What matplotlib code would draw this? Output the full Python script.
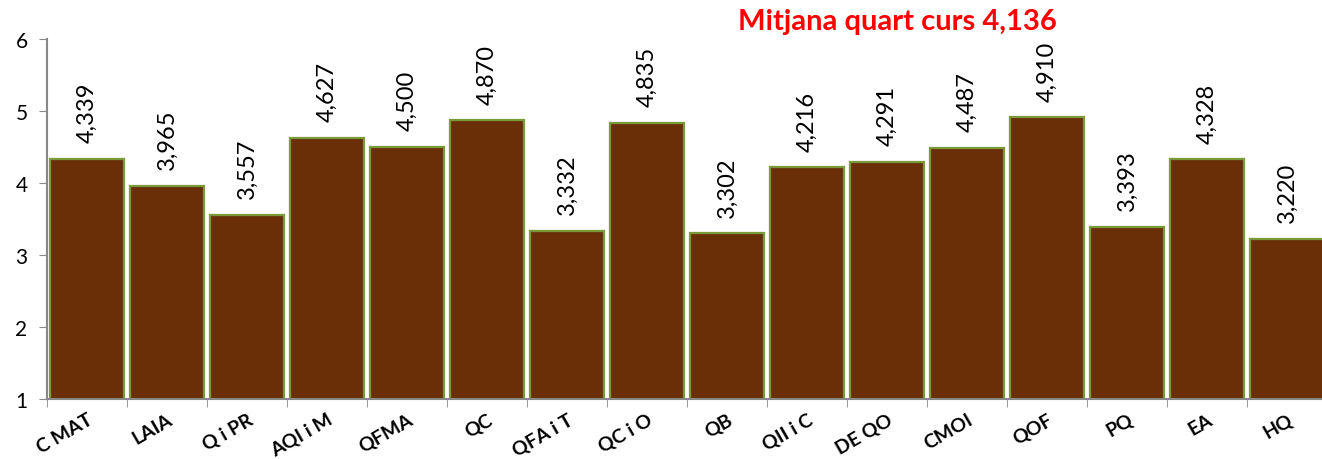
import matplotlib.pyplot as plt

categorias = ["C MAT", "LAIA", "Q i PR", "AQI i M", "QFMA", "QC", "QFA i T", "QC i O",
              "QB", "QII i C", "DE QO", "CMOI", "QOF", "PQ", "EA", "HQ"]
valors = [4.339, 3.965, 3.557, 4.627, 4.500, 4.870, 3.332, 4.835,
          3.302, 4.216, 4.291, 4.487, 4.910, 3.393, 4.328, 3.220]
mitjana = 4.136

plt.rcParams["font.family"] = ["Lato", "DejaVu Sans"]

W, H = 1322, 460
fig = plt.figure(figsize=(W / 100, H / 100), dpi=100)
x0, y0, y1 = 47, 400, 40
slot = 80
ax = fig.add_axes([x0 / W, 1 - y0 / H, 16 * slot / W, (y0 - y1) / H])

pos = list(range(len(categorias)))
ax.bar(pos, valors, width=0.92, color="#6B2F07", edgecolor="#7A9A3A", linewidth=1.6)

for x, v in zip(pos, valors):
    txt = f"{v:.3f}".replace(".", ",")
    ax.annotate(txt, (x, v), xytext=(0, 12), textcoords="offset points",
                rotation=90, ha="center", va="bottom", fontsize=17)

ax.set_xlim(-0.5, len(categorias) - 0.5)
ax.set_ylim(1, 6)
ax.set_yticks(range(1, 7))
ax.tick_params(axis="y", labelsize=15, length=6, color="#888888", pad=8)

# etiquetes al centre, marques entre barres
ax.set_xticks(pos)
ax.set_xticklabels(categorias, rotation=30, ha="right", va="top",
                   rotation_mode="anchor", fontsize=14, fontweight="bold")
ax.tick_params(axis="x", length=0, pad=8)
ax.set_xticks([p - 0.5 for p in pos] + [len(pos) - 0.5], minor=True)
ax.tick_params(axis="x", which="minor", length=6, color="#888888")

for s in ["top", "right"]:
    ax.spines[s].set_visible(False)
for s in ["left", "bottom"]:
    ax.spines[s].set_color("#888888")
    ax.spines[s].set_linewidth(1.5)

fig.text(897 / W, 1 - 22 / H, "Mitjana quart curs " + f"{mitjana:.3f}".replace(".", ","),
         color="red", fontsize=21, fontweight="bold", ha="center", va="center")

fig.savefig("out.png", dpi=100)
